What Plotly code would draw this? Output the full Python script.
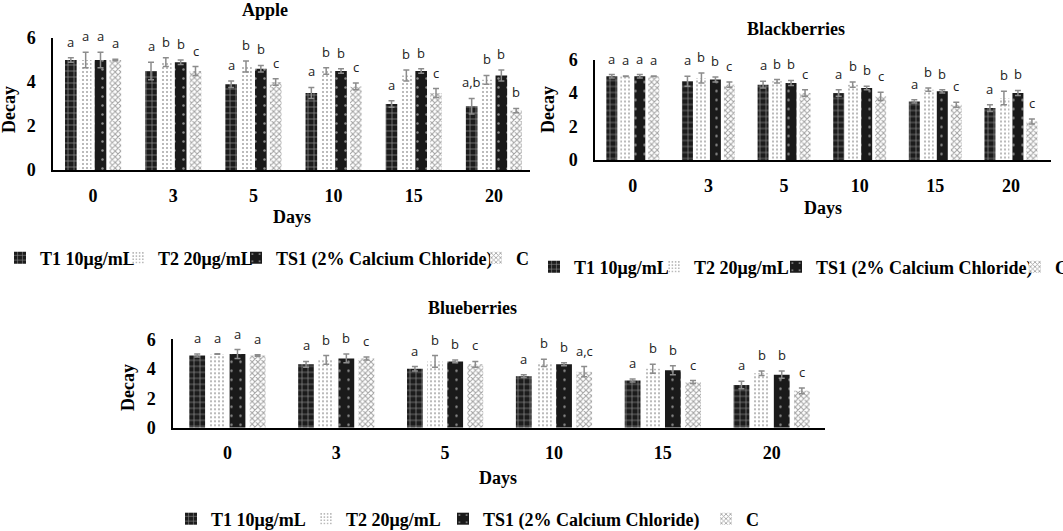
import plotly.graph_objects as go

days = ["0", "3", "5", "10", "15", "20"]
series_names = ["T1 10μg/mL", "T2 20μg/mL", "TS1 (2% Calcium Chloride)", "C"]

apple_T1 = [5.0, 4.5, 3.9, 3.5, 3.0, 2.9]
apple_T2 = [5.0, 4.9, 4.7, 4.5, 4.3, 4.1]
apple_TS1 = [5.0, 4.9, 4.6, 4.5, 4.5, 4.3]
apple_C = [5.0, 4.5, 4.0, 3.8, 3.5, 2.7]
apple_T1_err = [0.1, 0.4, 0.15, 0.25, 0.15, 0.35]
apple_T2_err = [0.35, 0.2, 0.25, 0.15, 0.25, 0.2]
apple_TS1_err = [0.35, 0.1, 0.15, 0.1, 0.1, 0.25]
apple_C_err = [0.03, 0.2, 0.15, 0.15, 0.2, 0.1]
apple_letters_T1 = ["a", "a", "a", "a", "a", "a,b"]
apple_letters_T2 = ["a", "b", "b", "b", "b", "b"]
apple_letters_TS1 = ["a", "b", "b", "b", "b", "b"]
apple_letters_C = ["a", "c", "c", "c", "c", "b"]

blackberry_T1 = [5.0, 4.7, 4.5, 4.0, 3.5, 3.1]
blackberry_T2 = [5.0, 4.9, 4.7, 4.5, 4.2, 3.7]
blackberry_TS1 = [5.0, 4.8, 4.6, 4.3, 4.1, 4.0]
blackberry_C = [5.0, 4.5, 4.0, 3.8, 3.3, 2.3]
blackberry_T1_err = [0.1, 0.3, 0.2, 0.2, 0.1, 0.2]
blackberry_T2_err = [0.02, 0.3, 0.1, 0.15, 0.1, 0.4]
blackberry_TS1_err = [0.1, 0.15, 0.15, 0.1, 0.1, 0.15]
blackberry_C_err = [0.02, 0.15, 0.2, 0.25, 0.15, 0.15]
blackberry_letters_T1 = ["a", "a", "a", "a", "a", "a"]
blackberry_letters_T2 = ["a", "b", "b", "b", "b", "b"]
blackberry_letters_TS1 = ["a", "b", "b", "b", "b", "b"]
blackberry_letters_C = ["a", "c", "c", "c", "c", "c"]

blueberry_T1 = [4.9, 4.3, 4.0, 3.5, 3.2, 2.9]
blueberry_T2 = [5.0, 4.6, 4.5, 4.4, 4.0, 3.7]
blueberry_TS1 = [5.0, 4.7, 4.5, 4.3, 3.9, 3.6]
blueberry_C = [4.9, 4.7, 4.3, 3.8, 3.1, 2.5]
blueberry_T1_err = [0.1, 0.2, 0.15, 0.1, 0.1, 0.25]
blueberry_T2_err = [0.02, 0.3, 0.4, 0.25, 0.3, 0.15]
blueberry_TS1_err = [0.3, 0.3, 0.1, 0.1, 0.3, 0.25]
blueberry_C_err = [0.05, 0.1, 0.2, 0.35, 0.1, 0.2]
blueberry_letters_T1 = ["a", "a", "a", "a", "a", "a"]
blueberry_letters_T2 = ["a", "b", "b", "b", "b", "b"]
blueberry_letters_TS1 = ["a", "b", "b", "b", "b", "b"]
blueberry_letters_C = ["a", "c", "c", "a,c", "c", "c"]

W, H = 1063, 531
SERIF = "Liberation Serif"
BARGAP = 0.26
BARGROUPGAP = 0.216
LEGEND_TEXT_OFFSET = 40  # px from legend left edge to its label text

patterns = [
    dict(shape="+", fgcolor="white", bgcolor="#1c1c1c", size=6, solidity=0.22),
    dict(shape=".", fgcolor="#4a4a4a", bgcolor="white", size=4, solidity=0.2),
    dict(shape=".", fgcolor="white", bgcolor="#1a1a1a", size=9, solidity=0.06),
    dict(shape="x", fgcolor="#444444", bgcolor="white", size=4, solidity=0.45),
]

panels = [
    dict(name="Apple", xa="x", ya="y",
         vals=[apple_T1, apple_T2, apple_TS1, apple_C],
         errs=[apple_T1_err, apple_T2_err, apple_TS1_err, apple_C_err],
         letters=[apple_letters_T1, apple_letters_T2, apple_letters_TS1, apple_letters_C],
         xdom=[53 / W, 530 / W], ydom=[1 - 170 / H, 1 - 38 / H], xr=[-0.5, 5.45],
         title=(265, 10), days=(292, 217), decay=(9, 110),
         legend_text_x=[40, 158, 276, 516], legend_y=258),
    dict(name="Blackberries", xa="x2", ya="y2",
         vals=[blackberry_T1, blackberry_T2, blackberry_TS1, blackberry_C],
         errs=[blackberry_T1_err, blackberry_T2_err, blackberry_TS1_err, blackberry_C_err],
         letters=[blackberry_letters_T1, blackberry_letters_T2, blackberry_letters_TS1, blackberry_letters_C],
         xdom=[595 / W, 1051 / W], ydom=[1 - 160 / H, 1 - 59.5 / H], xr=[-0.5, 5.53],
         title=(796, 29), days=(823, 208), decay=(548, 110),
         legend_text_x=[574, 694, 816, 1055], legend_y=267),
    dict(name="Blueberries", xa="x3", ya="y3",
         vals=[blueberry_T1, blueberry_T2, blueberry_TS1, blueberry_C],
         errs=[blueberry_T1_err, blueberry_T2_err, blueberry_TS1_err, blueberry_C_err],
         letters=[blueberry_letters_T1, blueberry_letters_T2, blueberry_letters_TS1, blueberry_letters_C],
         xdom=[173 / W, 825 / W], ydom=[1 - 427.7 / H, 1 - 339.3 / H], xr=[-0.5, 5.49],
         title=(472, 308), days=(498, 478), decay=(128, 388),
         legend_text_x=[211, 346, 483, 746], legend_y=519),
]

fig = go.Figure()
annotations = []
legends = {}
idx = list(range(len(days)))
pitch = (1 - BARGAP) / 4
legfont = dict(family=SERIF, size=18, color="black", weight="bold")

leg_n = 0
for p in panels:
    for i, name in enumerate(series_names):
        leg_n += 1
        leg_id = "legend" if leg_n == 1 else "legend%d" % leg_n
        x_px = max(p["legend_text_x"][i] - LEGEND_TEXT_OFFSET, 0)
        legends[leg_id] = dict(
            orientation="h", x=x_px / W, visible=True,
            y=1 - p["legend_y"] / H, xanchor="left", yanchor="middle",
            font=legfont, itemwidth=30, bgcolor="rgba(0,0,0,0)", borderwidth=0)
        fig.add_trace(go.Bar(
            x=idx, y=p["vals"][i], name=name, xaxis=p["xa"], yaxis=p["ya"],
            legend=leg_id, showlegend=True,
            marker=dict(pattern=patterns[i], line=dict(width=0)),
            error_y=dict(type="data", array=p["errs"][i], color="#8c8c8c",
                         thickness=1.5, width=3),
            hoverinfo="skip",
        ))
        for j in idx:
            annotations.append(dict(
                x=j + (i - 1.5) * pitch, y=p["vals"][i][j] + p["errs"][i][j],
                xref=p["xa"], yref=p["ya"], text=p["letters"][i][j],
                showarrow=False, yanchor="bottom", yshift=5,
                font=dict(family="Open Sans", size=13, color="#222222"),
            ))
    annotations.append(dict(x=p["title"][0] / W, y=1 - p["title"][1] / H, xref="paper", yref="paper",
                            text=p["name"], showarrow=False, xanchor="center", yanchor="middle",
                            font=dict(family=SERIF, size=18, color="black", weight="bold")))
    annotations.append(dict(x=p["days"][0] / W, y=1 - p["days"][1] / H, xref="paper", yref="paper",
                            text="Days", showarrow=False, xanchor="center", yanchor="middle",
                            font=dict(family=SERIF, size=18, color="black", weight="bold")))
    annotations.append(dict(x=p["decay"][0] / W, y=1 - p["decay"][1] / H, xref="paper", yref="paper",
                            text="Decay", showarrow=False, xanchor="center", yanchor="middle",
                            textangle=-90,
                            font=dict(family=SERIF, size=18, color="black", weight="bold")))

tickfont = dict(family=SERIF, size=18, color="black", weight="bold")
layout_axes = {}
for k, p in enumerate(panels):
    sfx = "" if k == 0 else str(k + 1)
    layout_axes["xaxis" + sfx] = dict(
        domain=p["xdom"], range=p["xr"], anchor=p["ya"], tickvals=idx, ticktext=days,
        showline=True, linecolor="black", linewidth=2, showgrid=False, zeroline=False,
        ticks="", tickfont=tickfont, ticklabelstandoff=8, fixedrange=True)
    layout_axes["yaxis" + sfx] = dict(
        domain=p["ydom"], range=[0, 6], anchor=p["xa"], tickvals=[0, 2, 4, 6],
        showline=True, linecolor="black", linewidth=1.5, showgrid=False, zeroline=False,
        ticks="", tickfont=tickfont, ticklabelstandoff=12, fixedrange=True)

fig.update_layout(
    width=W, height=H, margin=dict(l=0, r=0, t=0, b=0, autoexpand=False),
    paper_bgcolor="white", plot_bgcolor="white", showlegend=True,
    barmode="group", bargap=BARGAP, bargroupgap=BARGROUPGAP,
    annotations=annotations,
    **legends,
    **layout_axes,
)

fig.write_html("out.html", config={"displayModeBar": False},
               post_script="document.body.style.margin='0';document.body.style.overflow='hidden';")
